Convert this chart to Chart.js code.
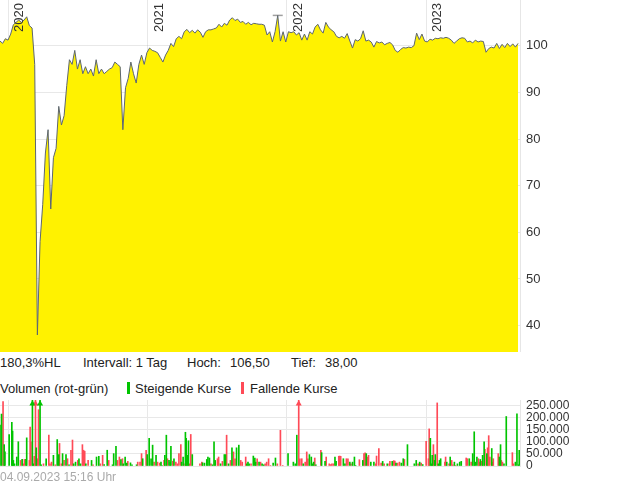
<!DOCTYPE html>
<html>
<head>
<meta charset="utf-8">
<script src="https://cdn.jsdelivr.net/npm/chart.js@4.4.0/dist/chart.umd.min.js"></script>
<style>
  html, body { margin: 0; padding: 0; background: #fff; }
  body { width: 620px; height: 483px; position: relative; overflow: hidden;
         font-family: "Liberation Sans", Arial, sans-serif; color: #222; }
  canvas { position: absolute; left: 0; }
  #price { top: 0; }
  #volume { top: 400px; }
  .t { position: absolute; font-size: 13px; line-height: 15px; white-space: nowrap; }
  .mark { position: absolute; width: 3px; height: 12px; }
</style>
</head>
<body>
<canvas id="price" width="620" height="352"></canvas>

<div class="t" style="left:0;top:355px">180,3%HL</div>
<div class="t" style="left:83px;top:355px">Intervall: 1 Tag</div>
<div class="t" style="left:187px;top:355px">Hoch:</div>
<div class="t" style="left:230px;top:355px">106,50</div>
<div class="t" style="left:291px;top:355px">Tief:</div>
<div class="t" style="left:325px;top:355px">38,00</div>

<div class="t" style="left:0;top:381px">Volumen (rot-grün)</div>
<div class="mark" style="left:127px;top:382px;background:#00c400"></div>
<div class="t" style="left:135px;top:381px">Steigende Kurse</div>
<div class="mark" style="left:241px;top:382px;background:#ff4a57"></div>
<div class="t" style="left:250px;top:381px">Fallende Kurse</div>

<canvas id="volume" width="620" height="74"></canvas>
<div class="t" style="left:0;top:470px;font-size:12px;color:#aaa">04.09.2023 15:16 Uhr</div>

<script>
// days are counted from 2020-01-01
const yearTicks = [0, 366, 731, 1096]
const yearLabels = ['2020', '2021', '2022', '2023']
const dayMin = -21
const dayMax = 1342

// weekly closing prices, first one on 2019-12-11
const priceStart = -21
const priceStep = 7
const prices = [
  101, 100.5, 101.5, 101.2, 102.5, 104.5, 105, 105.5, 105, 105.5,
  106.2, 104.3, 103.8, 96, 38, 58, 66, 77, 82, 65,
  76, 78, 87, 83, 85, 91.5, 97, 96, 99, 95,
  97, 94, 95.5, 94, 95, 93.5, 97, 94, 95, 94,
  94.5, 95, 95.3, 96.5, 96, 95.5, 82, 91, 93, 96.5,
  94, 92, 96, 98, 96, 98.5, 99.5, 99, 98.8, 98.5,
  97.5, 96.5, 98, 99, 100.5, 99.8, 101.5, 102, 101.5, 103,
  103.5, 102.8, 103.3, 102.7, 103.4, 102.9, 101.8, 103, 103.4, 103.4,
  103.6, 103.8, 104.6, 104, 104.8, 104.4, 105.5, 106, 105.4, 105.7,
  105, 105.2, 104.6, 105, 104.5, 104.8, 104.7, 104.6, 104.6, 104.4,
  102.3, 103, 100.8, 103, 106.5, 101, 103, 100.8, 103, 102.8,
  103, 102.3, 102.8, 101.2, 102.5, 101.2, 103, 102.5, 104, 104.6,
  103.4, 102.7, 105, 104, 103.4, 103, 102, 101.7, 102, 101.6,
  102.6, 101, 99.5, 101.3, 101, 101.5, 103.2, 101, 101.2, 100.8,
  99.7, 100.9, 100.6, 100.8, 100.2, 100.5, 100.7, 100.2, 99, 98.6,
  99.2, 99.6, 99.5, 99.7, 99.6, 100, 102.7, 101.3, 102.5, 101,
  100.8, 101.4, 101.2, 101.6, 101.5, 101.7, 101.6, 101.8, 101.6, 101.2,
  100.5, 101, 101.5, 101.7, 101.6, 100.8, 101, 100.6, 101.2, 100.8,
  101, 100.9, 98.6, 99.4, 99.7, 99.5, 100.5, 99.4, 100.3, 99.6,
  100.5, 99.8, 100.4, 99.7, 100.5
]
const priceTicks = [40, 50, 60, 70, 80, 90, 100]

// low and high of the period
const extremeDays = [77, 707]
const extremeValues = [38, 106.5]

// volume in thousands: [day, volume]
const risingVolume = [
  [-21,169],[-17,214],[-10,88],[-8,58],[3,130],[10,180],[12,144],[14,23],[17,9],[23,37],
  [27,100],[37,27],[47,27],[49,116],[64,300],[66,9],[74,75],[84,300],[87,5],[100,30],
  [119,44],[129,109],[133,47],[143,51],[152,47],[160,5],[172,9],[177,16],[186,30],[190,9],
  [204,9],[219,23],[232,37],[238,40],[252,6],[260,65],[274,5],[277,51],[283,81],[296,26],
  [302,9],[307,37],[311,12],[321,13],[325,5],[337,5],[353,30],[365,47],[370,114],[375,30],
  [379,86],[388,44],[401,16],[404,2],[411,44],[415,127],[422,23],[425,16],[427,81],[435,30],
  [455,16],[459,37],[465,139],[467,114],[470,44],[473,104],[483,47],[510,13],[515,12],[521,27],
  [524,37],[528,33],[536,5],[540,100],[543,23],[557,9],[567,47],[570,47],[578,9],[587,75],
  [599,75],[605,86],[626,9],[629,16],[632,9],[643,41],[647,33],[649,16],[658,16],[666,9],
  [670,5],[695,12],[701,33],[734,51],[748,16],[753,9],[757,127],[774,9],[790,47],[795,37],
  [798,9],[801,16],[807,5],[822,55],[831,19],[857,37],[860,19],[879,30],[883,9],[896,16],
  [903,16],[908,37],[911,2],[930,23],[939,51],[951,16],[959,16],[982,19],[994,9],[1007,19],
  [1017,12],[1031,12],[1036,30],[1047,88],[1065,9],[1070,23],[1079,16],[1087,6],[1107,114],[1110,9],
  [1112,44],[1118,23],[1120,47],[1128,9],[1131,23],[1134,30],[1150,16],[1159,37],[1170,16],[1178,9],
  [1184,16],[1188,19],[1209,30],[1218,51],[1222,141],[1225,16],[1229,37],[1238,27],[1244,44],[1248,100],
  [1255,51],[1268,72],[1288,37],[1291,88],[1300,9],[1306,204],[1330,16],[1334,215],[1338,5],[1340,65]
]
const fallingVolume = [
  [-13,266],[33,23],[40,9],[43,27],[56,23],[58,160],[60,100],[69,40],[72,300],[77,30],
  [80,232],[93,9],[107,127],[110,9],[114,16],[124,5],[135,93],[140,9],[147,23],[156,30],
  [165,65],[169,107],[183,23],[195,88],[198,65],[201,61],[210,23],[223,5],[242,9],[248,44],
  [264,23],[287,23],[292,37],[300,30],[314,19],[340,16],[346,16],[350,51],[362,65],[383,16],
  [392,16],[398,12],[409,23],[418,30],[432,20],[440,16],[444,9],[448,51],[453,88],[461,9],
  [475,9],[479,130],[503,9],[508,16],[532,9],[549,30],[552,37],[562,19],[573,127],[583,23],
  [591,58],[595,30],[610,23],[614,16],[623,37],[637,9],[653,30],[662,16],[674,9],[678,16],
  [683,30],[688,2],[706,9],[714,147],[720,2],[762,300],[765,30],[770,30],[779,16],[783,58],
  [786,30],[804,33],[820,65],[834,37],[842,9],[846,6],[849,9],[853,9],[867,40],[869,41],
  [872,40],[887,30],[891,30],[899,9],[921,26],[933,51],[936,54],[943,37],[945,44],[964,9],
  [966,41],[972,72],[978,12],[986,9],[999,9],[1001,19],[1011,22],[1014,20],[1021,12],[1026,16],
  [1039,27],[1075,9],[1083,12],[1096,102],[1102,30],[1104,153],[1115,88],[1125,260],[1145,16],[1147,37],
  [1156,9],[1163,23],[1166,5],[1173,2],[1201,33],[1204,30],[1214,16],[1233,30],[1235,16],[1242,19],
  [1250,69],[1257,75],[1260,125],[1263,37],[1270,16],[1272,30],[1285,51],[1293,23],[1296,16],[1322,55],
  [1325,9]
]
const volumeMax = 272000
const volumeTicks = [0, 50000, 100000, 150000, 200000, 250000]

const green = '#00c400'
const red = '#ff4a57'
const tickFont = { family: '"Liberation Sans", Arial, sans-serif' }

const setYearTicks = scale => { scale.ticks = yearTicks.map(v => ({ value: v })) }
const fixedTicks = list => scale => { scale.ticks = list.map(v => ({ value: v })) }
const fitRightAxis = scale => { scale.width = 100; scale.paddingTop = 0; scale.paddingBottom = 0 }
const fitXAxis = scale => { scale.height = 0; scale.paddingLeft = 0; scale.paddingRight = 0 }
const thousands = v => String(v).replace(/\B(?=(\d{3})+(?!\d))/g, '.')

const yearLabelPlugin = {
  id: 'yearLabels',
  afterDraw (chart) {
    const ctx = chart.ctx
    const x = chart.scales.x
    ctx.save()
    ctx.font = '13px "Liberation Sans", Arial, sans-serif'
    ctx.fillStyle = '#333'
    ctx.textAlign = 'right'
    ctx.textBaseline = 'alphabetic'
    yearTicks.forEach((d, i) => {
      ctx.save()
      ctx.translate(x.getPixelForValue(d) + 15, chart.chartArea.top + 3)
      ctx.rotate(-Math.PI / 2)
      ctx.fillText(yearLabels[i], 0, 0)
      ctx.restore()
    })
    ctx.restore()
  }
}

new Chart(document.getElementById('price'), {
  type: 'line',
  data: {
    datasets: [
      {
        data: prices.map((p, i) => ({ x: priceStart + i * priceStep, y: p })),
        borderColor: '#5c6570',
        borderWidth: 1,
        backgroundColor: '#fff200',
        fill: 'start',
        pointRadius: 0,
        tension: 0
      },
      {
        data: extremeDays.map((d, i) => ({ x: d, y: extremeValues[i] })),
        showLine: false,
        pointStyle: 'line',
        pointRadius: 5,
        pointBorderColor: '#a0a0a0',
        pointBorderWidth: 1.5
      }
    ]
  },
  options: {
    responsive: false,
    animation: false,
    events: [],
    layout: { padding: 0, autoPadding: false },
    plugins: { legend: { display: false }, tooltip: { enabled: false } },
    scales: {
      x: {
        type: 'linear',
        min: dayMin,
        max: dayMax,
        z: 1,
        afterBuildTicks: setYearTicks,
        afterFit: fitXAxis,
        ticks: { display: false },
        grid: { color: 'rgba(0,0,0,0.09)', drawTicks: false },
        border: { display: false }
      },
      y: {
        position: 'right',
        min: 34.35,
        max: 109.8,
        z: 1,
        afterBuildTicks: fixedTicks(priceTicks),
        afterFit: fitRightAxis,
        ticks: { autoSkip: false, padding: 6, color: '#333', font: { ...tickFont, size: 13 } },
        grid: { color: 'rgba(0,0,0,0.09)', drawTicks: false },
        border: { color: '#e6e6e6' }
      }
    }
  },
  plugins: [yearLabelPlugin]
})

const toBars = list => list.map(([d, v]) => ({ x: d, y: v * 1000 }))
const clipped = list => list.filter(([d, v]) => v * 1000 > volumeMax).map(([d]) => ({ x: d, y: 257000 }))

new Chart(document.getElementById('volume'), {
  type: 'bar',
  data: {
    datasets: [
      { data: toBars(risingVolume), backgroundColor: green, barThickness: 1, grouped: false },
      { data: toBars(fallingVolume), backgroundColor: red, barThickness: 1, grouped: false },
      {
        type: 'scatter',
        data: clipped(risingVolume),
        pointStyle: 'triangle',
        pointRadius: 3.5,
        backgroundColor: green,
        borderColor: green,
        borderWidth: 0,
        clip: false
      },
      {
        type: 'scatter',
        data: clipped(fallingVolume),
        pointStyle: 'triangle',
        pointRadius: 3.5,
        backgroundColor: red,
        borderColor: red,
        borderWidth: 0,
        clip: false
      }
    ]
  },
  options: {
    responsive: false,
    animation: false,
    events: [],
    layout: { padding: { top: 0, bottom: 8, left: 0, right: 0 }, autoPadding: false },
    plugins: { legend: { display: false }, tooltip: { enabled: false } },
    scales: {
      x: {
        type: 'linear',
        min: dayMin,
        max: dayMax,
        offset: false,
        afterBuildTicks: setYearTicks,
        afterFit: fitXAxis,
        ticks: { display: false },
        grid: { color: '#e8e8e8', drawTicks: false, offset: false },
        border: { display: false }
      },
      y: {
        position: 'right',
        min: 0,
        max: volumeMax,
        afterBuildTicks: fixedTicks(volumeTicks),
        afterFit: fitRightAxis,
        ticks: { autoSkip: false, padding: 6, color: '#333',
                 font: { ...tickFont, size: 12 }, callback: v => thousands(v) },
        grid: { color: '#e8e8e8', drawTicks: false },
        border: { color: '#e6e6e6' }
      }
    }
  }
})
</script>
</body>
</html>
